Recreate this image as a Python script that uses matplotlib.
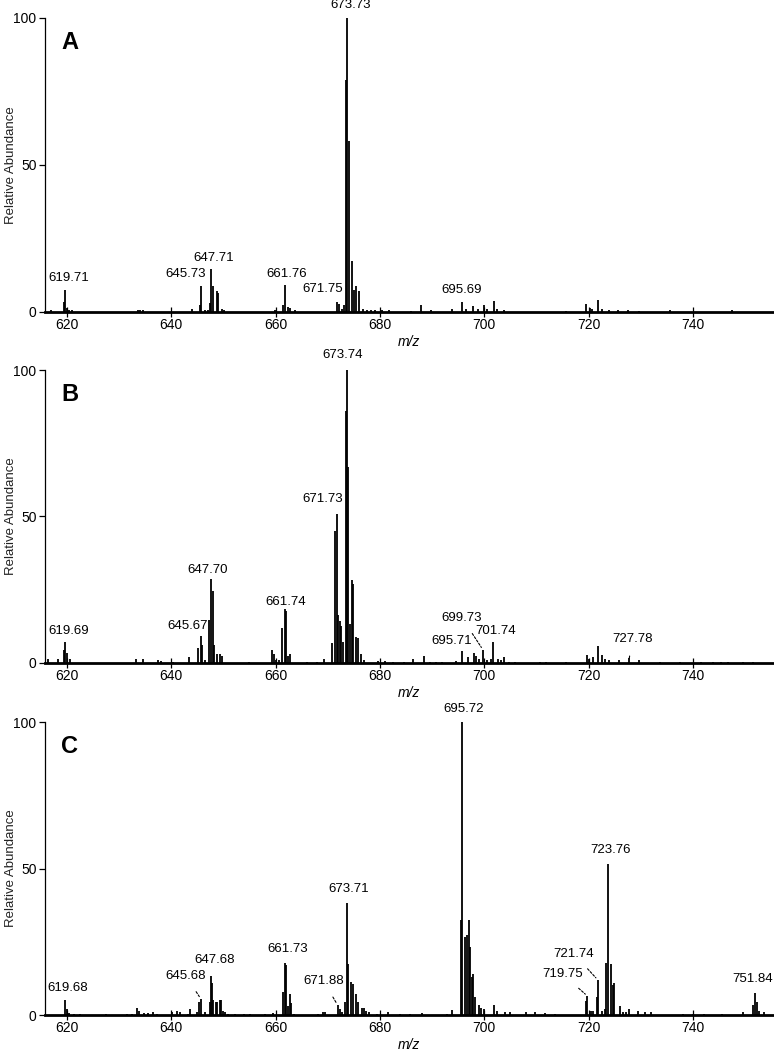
import matplotlib
matplotlib.use("Agg")
import matplotlib.pyplot as plt

plt.rcParams['font.family'] = ['Liberation Sans', 'DejaVu Sans']

# ---- peak lists (m/z, relative abundance) ----
mz_a = [617.0, 619.45, 619.71, 620.1, 620.5, 621.0, 633.6, 634.1, 634.6, 643.9,
        645.45, 645.73, 646.4, 647.0, 647.45, 647.71, 648.0, 648.7, 648.95, 649.7,
        650.2, 659.8, 661.5, 661.76, 662.4, 662.8, 663.7, 671.75, 672.1, 672.8,
        673.2, 673.5, 673.73, 674.0, 674.65, 675.1, 675.5, 675.9, 676.7, 677.5,
        678.3, 679.0, 680.3, 681.8, 686.0, 687.9, 689.8, 693.8, 695.69, 696.5,
        697.9, 698.7, 700.0, 700.6, 701.9, 702.5, 703.8, 715.7, 719.5, 720.2,
        720.7, 721.7, 722.5, 723.9, 725.7, 727.6, 729.7, 735.5, 747.5]
int_a = [0.5, 3.4, 7.6, 1.5, 0.8, 0.5, 0.7, 0.8, 0.5, 1.0,
         2.5, 8.7, 0.6, 0.8, 3.0, 14.7, 8.7, 7.0, 6.5, 1.0,
         0.5, 0.6, 2.5, 9.3, 1.8, 1.2, 0.8, 3.4, 2.7, 1.0,
         2.5, 79.0, 100.0, 58.3, 17.5, 7.5, 8.8, 7.0, 1.0, 0.5,
         0.5, 0.5, 0.5, 0.5, 0.3, 2.3, 0.5, 1.0, 3.4, 1.0,
         2.0, 1.0, 2.5, 1.0, 3.6, 1.0, 0.5, 0.3, 2.6, 1.5,
         1.0, 4.2, 1.0, 0.7, 0.5, 0.5, 0.3, 0.5, 0.5]

mz_b = [616.4, 618.3, 619.5, 619.69, 620.0, 620.7, 633.3, 634.6, 637.4, 638.0,
        640.3, 643.5, 645.1, 645.67, 645.9, 646.4, 647.2, 647.70, 647.95, 648.2,
        648.8, 649.4, 649.8, 655.0, 659.3, 659.7, 660.1, 660.7, 661.2, 661.74,
        661.95, 662.3, 662.7, 666.1, 668.0, 669.3, 670.9, 671.4, 671.73, 671.9,
        672.35, 672.6, 672.9, 673.45, 673.74, 673.95, 674.3, 674.55, 674.8, 675.5,
        675.75, 676.4, 677.0, 679.6, 680.9, 682.5, 684.7, 686.3, 688.5, 689.5,
        690.8, 691.8, 694.6, 695.71, 696.8, 697.95, 698.4, 699.0, 699.73, 700.6,
        701.3, 701.74, 702.6, 703.2, 703.8, 704.8, 705.8, 710.6, 711.9, 715.7,
        719.7, 720.1, 720.8, 721.8, 722.6, 723.2, 723.9, 725.8, 727.78, 729.7,
        733.6, 737.4, 741.5, 743.8, 745.4, 746.6, 749.5, 751.4]
int_b = [1.5, 1.2, 4.5, 7.0, 3.5, 1.5, 1.5, 1.5, 1.0, 0.7,
         0.3, 2.0, 5.1, 9.1, 6.0, 1.0, 14.5, 28.6, 24.4, 6.2,
         3.0, 3.0, 2.5, 0.3, 4.3, 3.0, 1.0, 1.0, 11.9, 18.4,
         17.8, 2.5, 3.0, 0.5, 0.5, 1.5, 6.8, 45.0, 50.8, 16.4,
         14.4, 12.5, 7.0, 86.0, 100.0, 67.0, 13.4, 28.3, 26.9, 8.7,
         8.5, 3.0, 1.0, 0.7, 0.7, 0.5, 0.5, 1.5, 2.3, 0.5,
         0.5, 0.5, 0.7, 4.0, 2.0, 3.4, 2.5, 1.5, 4.5, 1.0,
         1.5, 7.0, 1.5, 1.0, 2.0, 0.5, 0.5, 0.5, 0.5, 0.3,
         2.8, 1.5, 2.0, 5.7, 2.8, 1.5, 1.0, 1.0, 1.7, 1.0,
         0.3, 0.3, 0.5, 0.3, 0.5, 0.5, 0.5, 0.5]

mz_c = [619.68, 620.0, 620.5, 621.3, 622.5, 627.5, 631.5, 632.4, 633.5, 633.9,
        634.7, 635.5, 636.5, 637.2, 640.2, 641.1, 641.7, 643.3, 643.6, 644.9,
        645.4, 645.68, 646.5, 647.35, 647.68, 647.85, 648.1, 648.5, 648.8, 649.3,
        649.6, 649.9, 650.4, 650.9, 652.2, 654.0, 655.1, 658.0, 659.5, 661.35,
        661.73, 661.95, 662.4, 662.7, 663.0, 663.5, 668.2, 669.0, 669.4, 671.88,
        672.3, 672.8, 673.35, 673.71, 673.95, 674.45, 674.75, 675.45, 675.75, 676.5,
        676.9, 677.4, 677.9, 679.5, 681.6, 683.9, 685.8, 688.1, 692.8, 693.8,
        695.5, 695.72, 696.3, 696.67, 697.0, 697.2, 697.6, 697.9, 698.2, 698.9,
        699.3, 700.0, 701.8, 702.4, 703.9, 705.0, 707.9, 709.8, 711.7, 713.6,
        719.4, 719.75, 720.4, 720.8, 721.5, 721.74, 722.6, 723.1, 723.4, 723.76,
        724.2, 724.6, 724.9, 725.9, 726.5, 727.2, 727.8, 729.4, 730.8, 732.0,
        738.1, 740.0, 742.0, 745.5, 749.6, 751.5, 751.84, 752.2, 752.6, 753.6]
int_c = [5.1, 2.0, 0.8, 0.3, 0.3, 0.3, 0.5, 0.5, 2.5, 1.5,
         0.7, 0.7, 1.0, 0.5, 1.0, 1.3, 1.0, 0.5, 2.0, 1.0,
         4.6, 5.5, 1.0, 4.3, 13.3, 11.0, 5.0, 4.5, 4.5, 5.0,
         5.0, 1.5, 1.0, 0.5, 0.3, 0.3, 0.3, 0.5, 0.8, 8.0,
         17.9, 17.0, 3.0, 7.1, 4.0, 0.5, 0.3, 1.0, 1.0, 3.4,
         2.0, 1.0, 4.3, 38.4, 17.3, 11.2, 10.5, 7.1, 4.5, 2.5,
         2.5, 1.5, 1.0, 0.5, 1.0, 0.5, 0.5, 0.7, 0.5, 1.7,
         32.5, 100.0, 26.8, 27.3, 32.5, 23.3, 13.0, 13.9, 6.3, 3.5,
         2.5, 2.0, 3.4, 1.5, 1.0, 1.0, 1.0, 1.0, 0.7, 0.5,
         4.9, 6.5, 1.5, 1.5, 6.0, 12.0, 1.5, 2.0, 17.9, 51.4,
         17.5, 10.3, 11.0, 3.1, 1.0, 1.0, 2.0, 1.5, 1.0, 1.0,
         0.3, 0.5, 0.5, 0.5, 1.0, 3.5, 7.4, 4.5, 1.5, 1.0]

# labelled peaks per panel
labels_a = [619.71, 645.73, 647.71, 661.76, 671.75, 673.73, 695.69]
labels_b = [619.69, 645.67, 647.70, 661.74, 671.73, 673.74, 695.71, 699.73, 701.74, 727.78]
labels_c = [619.68, 645.68, 647.68, 661.73, 671.88, 673.71, 695.72, 719.75, 721.74, 723.76, 751.84]

# label offsets in pixels (dx, dy) and whether a leader line is drawn
offs_a = [(3, 12), (-15, 12), (2, 11), (2, 11), (-14, 13), (3, 13), (0, 12)]
lead_a = [False, False, False, False, False, False, False]
offs_b = [(3, 11), (-13, 10), (-4, 9), (1, 7), (-14, 15), (-5, 15),
          (-10, 10), (-21, 32), (2, 11), (3, 19)]
lead_b = [False, False, False, False, False, False, False, True, False, True]
offs_c = [(3, 12), (-15, 23), (3, 16), (3, 14), (-14, 24), (2, 14),
          (2, 13), (-25, 22), (-24, 26), (2, 14), (-2, 14)]
lead_c = [False, True, False, False, True, False, False, True, True, False, False]

panels = [
    ('A', mz_a, int_a, labels_a, offs_a, lead_a, [0.058, 0.7029, 0.942, 0.28]),
    ('B', mz_b, int_b, labels_b, offs_b, lead_b, [0.058, 0.3686, 0.942, 0.279]),
    ('C', mz_c, int_c, labels_c, offs_c, lead_c, [0.058, 0.0333, 0.942, 0.279]),
]

fig = plt.figure(figsize=(7.74, 10.5), dpi=100)

for letter, mz, inten, labs, offs, leads, rect in panels:
    ax = fig.add_axes(rect)
    ax.vlines(mz, 0, inten, color='black', lw=1.3, clip_on=False)
    ax.set_xlim(615.8, 755.5)
    ax.set_ylim(0, 100)
    ax.spines['top'].set_visible(False)
    ax.spines['right'].set_visible(False)
    ax.spines['bottom'].set_linewidth(2.0)
    ax.spines['left'].set_linewidth(0.9)
    ax.set_xticks([620, 640, 660, 680, 700, 720, 740])
    ax.set_yticks([0, 50, 100])
    ax.tick_params(axis='x', direction='inout', length=7, width=0.9, labelsize=10, pad=1)
    ax.tick_params(axis='y', direction='out', length=4, width=0.9, labelsize=10, pad=2)
    ax.set_ylabel('Relative Abundance', fontsize=9.5, color='#222222')
    ax.yaxis.set_label_coords(-0.038, 0.5)
    ax.set_xlabel('m/z', fontsize=10, style='italic', labelpad=2)
    ax.text(0.034, 0.915, letter, transform=ax.transAxes, fontsize=17,
            fontweight='bold', ha='center', va='center')

    for lab, (dx, dy), lead in zip(labs, offs, leads):
        h = inten[mz.index(lab)]
        if lead:
            ax.annotate(f'{lab:.2f}', xy=(lab, h), xytext=(dx, dy),
                        textcoords='offset pixels', ha='center', va='center',
                        fontsize=9.5, annotation_clip=False,
                        arrowprops=dict(arrowstyle='-', ls=(0, (2, 1.5)), lw=0.8,
                                        shrinkA=6, shrinkB=2, color='black'))
        else:
            ax.annotate(f'{lab:.2f}', xy=(lab, h), xytext=(dx, dy),
                        textcoords='offset pixels', ha='center', va='center',
                        fontsize=9.5, annotation_clip=False)

fig.savefig('out.png', dpi=100)
